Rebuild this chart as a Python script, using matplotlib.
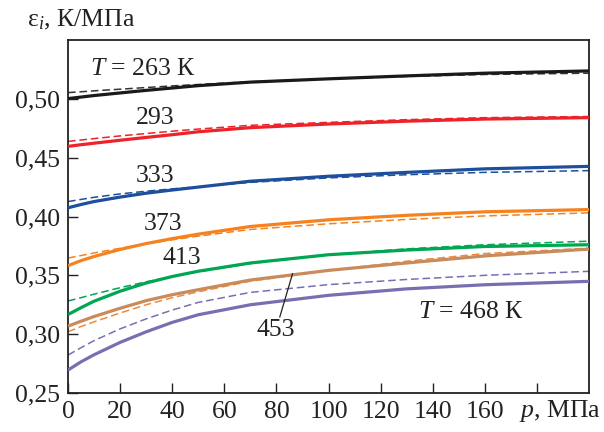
import matplotlib
matplotlib.use("Agg")
import matplotlib.pyplot as plt

plt.rcParams['font.family'] = ['Liberation Serif', 'DejaVu Serif']
plt.rcParams['mathtext.fontset'] = 'custom'
plt.rcParams['mathtext.rm'] = 'Liberation Serif'
plt.rcParams['mathtext.it'] = 'Liberation Serif:italic'

p = [0, 5, 10, 20, 30, 40, 50, 70, 100, 130, 160, 200]

temps = [263, 293, 333, 373, 413, 453, 468]

solid = {
    263: [0.5002, 0.5015, 0.5028, 0.5050, 0.5072, 0.5092, 0.5112, 0.5142, 0.5170, 0.5195, 0.5218, 0.5237],
    293: [0.4596, 0.4610, 0.4623, 0.4648, 0.4672, 0.4695, 0.4720, 0.4755, 0.4786, 0.4810, 0.4828, 0.4840],
    333: [0.4074, 0.4102, 0.4127, 0.4165, 0.4198, 0.4225, 0.4250, 0.4300, 0.4342, 0.4375, 0.4405, 0.4426],
    373: [0.3582, 0.3625, 0.3660, 0.3720, 0.3770, 0.3812, 0.3850, 0.3915, 0.3972, 0.4010, 0.4040, 0.4059],
    413: [0.3167, 0.3225, 0.3280, 0.3365, 0.3435, 0.3490, 0.3535, 0.3605, 0.3675, 0.3715, 0.3745, 0.3760],
    453: [0.3068, 0.3110, 0.3150, 0.3220, 0.3285, 0.3335, 0.3378, 0.3460, 0.3542, 0.3605, 0.3665, 0.3723],
    468: [0.2695, 0.2765, 0.2825, 0.2930, 0.3020, 0.3100, 0.3165, 0.3250, 0.3330, 0.3385, 0.3420, 0.3449],
}
dashed = {
    263: [0.5053, 0.5060, 0.5068, 0.5082, 0.5096, 0.5110, 0.5122, 0.5145, 0.5170, 0.5190, 0.5207, 0.5218],
    293: [0.4638, 0.4650, 0.4662, 0.4685, 0.4705, 0.4725, 0.4743, 0.4775, 0.4800, 0.4823, 0.4840, 0.4850],
    333: [0.4127, 0.4145, 0.4163, 0.4192, 0.4215, 0.4235, 0.4252, 0.4290, 0.4328, 0.4355, 0.4375, 0.4390],
    373: [0.3647, 0.3668, 0.3690, 0.3730, 0.3768, 0.3802, 0.3833, 0.3890, 0.3938, 0.3975, 0.4005, 0.4031],
    413: [0.3282, 0.3310, 0.3340, 0.3395, 0.3445, 0.3490, 0.3530, 0.3600, 0.3675, 0.3725, 0.3760, 0.3790],
    453: [0.3020, 0.3065, 0.3105, 0.3180, 0.3250, 0.3310, 0.3360, 0.3450, 0.3540, 0.3620, 0.3685, 0.3731],
    468: [0.2822, 0.2885, 0.2945, 0.3045, 0.3130, 0.3205, 0.3270, 0.3355, 0.3421, 0.3465, 0.3500, 0.3534],
}

solid_colors = {263: '#1a1a1a', 293: '#ee2229', 333: '#1d4f9c', 373: '#f5821f',
                413: '#00a651', 453: '#c98b5b', 468: '#7670b3'}
dashed_colors = {263: '#333333', 293: '#ee2229', 333: '#1d4f9c', 373: '#f5821f',
                 413: '#00a651', 453: '#ee8a3c', 468: '#7670b3'}

x_ticks = [0, 20, 40, 60, 80, 100, 120, 140, 160, 180]
x_labels = ['0', '20', '40', '60', '80', '100', '120', '140', '160', '']
y_ticks = [0.25, 0.30, 0.35, 0.40, 0.45, 0.50]
y_labels = ['0,25', '0,30', '0,35', '0,40', '0,45', '0,50']

fig = plt.figure(figsize=(6.04, 4.32), dpi=100)
ax = fig.add_axes([68/604, 1-393/432, (589-68)/604, (393-40)/432])

for t in temps:
    ax.plot(p, dashed[t], color=dashed_colors[t], lw=1.1, ls=(0, (5, 2.5)), zorder=2)
    ax.plot(p, solid[t], color=solid_colors[t], lw=2.3, zorder=3, solid_capstyle='butt',
            solid_joinstyle='round')

fs = 18.5
ax.set_xlim(0, 200)
ax.set_ylim(0.25, 0.55)
ax.set_xticks(x_ticks)
ax.set_xticklabels(x_labels)
ax.set_yticks(y_ticks)
ax.set_yticklabels(y_labels)
ax.tick_params(direction='in', length=7, width=1.0, labelsize=fs, colors='#222222',
               top=False, right=False, pad=6)
for s in ax.spines.values():
    s.set_linewidth(1.3)
    s.set_color('#222222')

ax.text(8.5, 0.5254, r'$T$ = 263 К', fontsize=fs, ha='left', va='center', color='#222222')
ax.text(33.4, 0.4839, '293', fontsize=fs, ha='center', va='center', color='#222222')
ax.text(33.4, 0.4347, '333', fontsize=fs, ha='center', va='center', color='#222222')
ax.text(36.4, 0.3940, '373', fontsize=fs, ha='center', va='center', color='#222222')
ax.text(43.7, 0.3644, '413', fontsize=fs, ha='center', va='center', color='#222222')
ax.text(79.8, 0.3034, '453', fontsize=fs, ha='center', va='center', color='#222222')
ax.plot([81.3, 86.2], [0.3146, 0.3514], color='#222222', lw=0.9, zorder=4)
ax.text(154.6, 0.3186, r'$T$ = 468 К', fontsize=fs, ha='center', va='center', color='#222222')

fig.text(560/604, 1-411/432, r'$p$, МПа', fontsize=fs, ha='center', va='center', color='#222222')
fig.text(27/604, 1-20/432, r'ε$_i$, К/МПа', fontsize=fs, ha='left', va='center', color='#222222')

fig.savefig('out.png', dpi=100)
